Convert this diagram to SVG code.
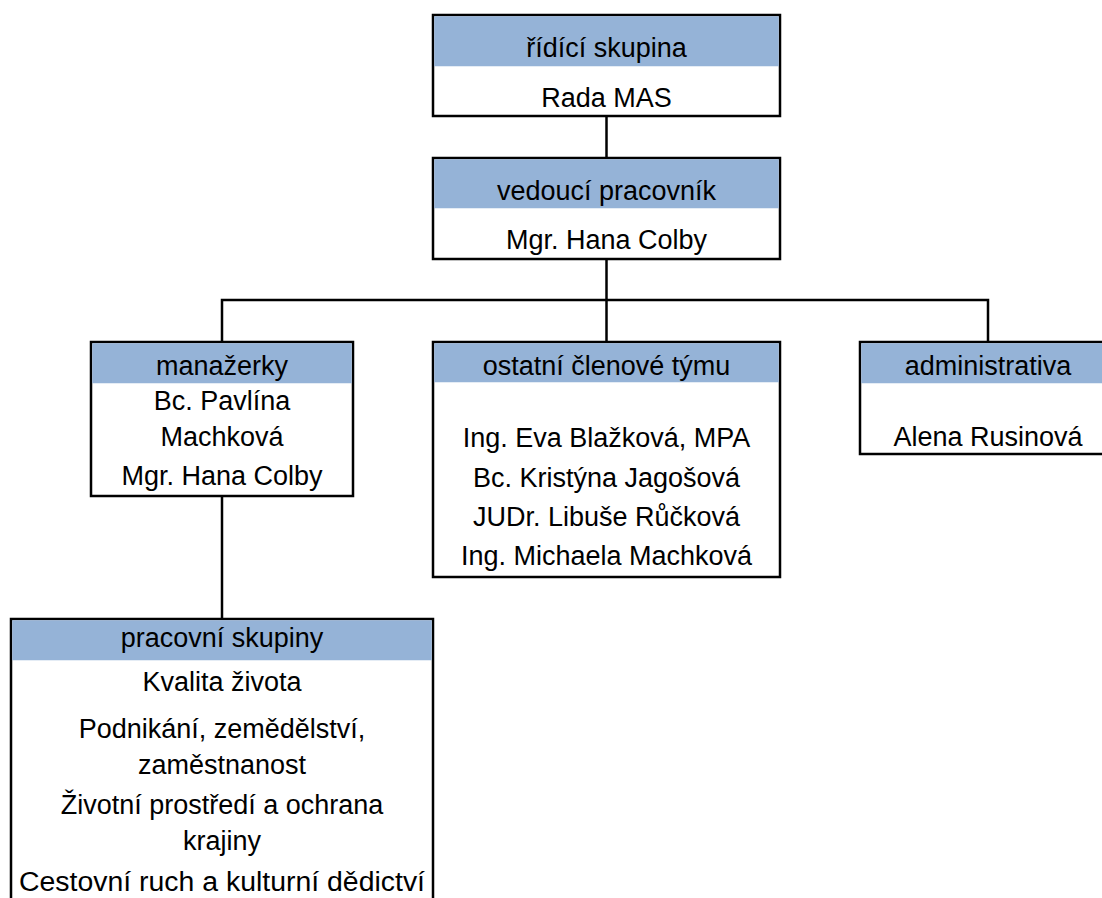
<svg xmlns="http://www.w3.org/2000/svg" width="1102" height="898" viewBox="0 0 1102 898">
<style>
.box{fill:#ffffff;stroke:#000000;stroke-width:2.5}
.hdr{fill:#95b3d7}
.t{font-family:"Liberation Sans",Arial,sans-serif;font-size:27px;fill:#000000;text-anchor:middle}
.c{fill:none;stroke:#000000;stroke-width:2.5}
</style>
<rect width="1102" height="898" fill="#ffffff"/>
<g id="connectors">
<line class="c" x1="606.5" y1="116" x2="606.5" y2="158"/>
<line class="c" x1="606.5" y1="259" x2="606.5" y2="342"/>
<polyline class="c" points="222,342 222,300 988,300 988,342"/>
<line class="c" x1="222" y1="496" x2="222" y2="619"/>
</g>
<g id="ridici">
<rect class="box" x="433" y="15" width="347" height="101"/>
<rect class="hdr" x="434.25" y="16.25" width="344.5" height="50"/>
<text class="t" x="606.5" y="57">řídící skupina</text>
<text class="t" x="606.5" y="107">Rada MAS</text>
</g>
<g id="vedouci">
<rect class="box" x="433" y="158" width="347" height="101"/>
<rect class="hdr" x="434.25" y="159.25" width="344.5" height="49"/>
<text class="t" x="606.5" y="200">vedoucí pracovník</text>
<text class="t" x="606.5" y="249">Mgr. Hana Colby</text>
</g>
<g id="manazerky">
<rect class="box" x="91" y="342" width="262" height="154"/>
<rect class="hdr" x="92.25" y="343.25" width="259.5" height="40"/>
<text class="t" x="222" y="375">manažerky</text>
<text class="t" x="222" y="410">Bc. Pavlína</text>
<text class="t" x="222" y="446">Machková</text>
<text class="t" x="222" y="485">Mgr. Hana Colby</text>
</g>
<g id="ostatni">
<rect class="box" x="433" y="342" width="347" height="235"/>
<rect class="hdr" x="434.25" y="343.25" width="344.5" height="39"/>
<text class="t" x="606.5" y="375">ostatní členové týmu</text>
<text class="t" x="606.5" y="447">Ing. Eva Blažková, MPA</text>
<text class="t" x="606.5" y="487">Bc. Kristýna Jagošová</text>
<text class="t" x="606.5" y="526">JUDr. Libuše Růčková</text>
<text class="t" x="606.5" y="565">Ing. Michaela Machková</text>
</g>
<g id="administrativa">
<rect class="box" x="860" y="342" width="256" height="112"/>
<rect class="hdr" x="861.25" y="343.25" width="253.5" height="40"/>
<text class="t" x="988" y="375">administrativa</text>
<text class="t" x="988" y="446">Alena Rusinová</text>
</g>
<g id="pracovni">
<rect class="box" x="11" y="619" width="422" height="300"/>
<rect class="hdr" x="12.25" y="620.25" width="419.5" height="40"/>
<text class="t" x="222" y="647">pracovní skupiny</text>
<text class="t" x="222" y="691">Kvalita života</text>
<text class="t" x="222" y="738">Podnikání, zemědělství,</text>
<text class="t" x="222" y="774">zaměstnanost</text>
<text class="t" x="222" y="814">Životní prostředí a ochrana</text>
<text class="t" x="222" y="850">krajiny</text>
<text class="t" x="222" y="891" textLength="406" lengthAdjust="spacingAndGlyphs">Cestovní ruch a kulturní dědictví</text>
</g>
</svg>
